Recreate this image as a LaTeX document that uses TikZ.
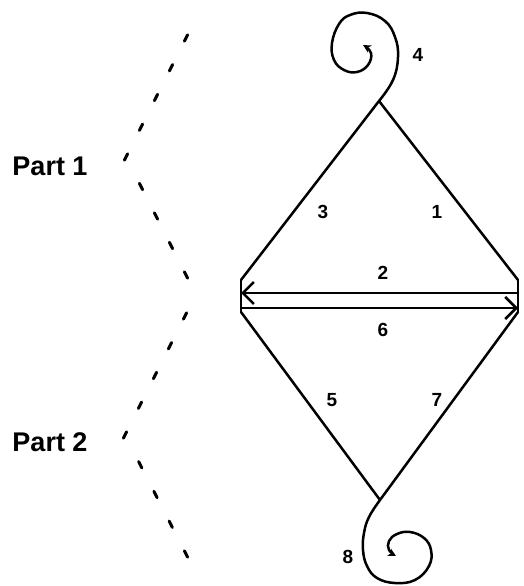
\documentclass[tikz,border=0pt]{standalone}
\usepackage{fontspec}
\setmainfont{Liberation Sans}
\usetikzlibrary{arrows.meta,calc}
\begin{document}
\begin{tikzpicture}[x=1pt,y=-1pt,
  edge/.style={line width=2.5pt,line cap=round,line join=round},
  tickmark/.style={line width=3pt,line cap=round},
  lbl/.style={font=\bfseries\fontsize{19}{19}\selectfont,inner sep=0pt},
  partlbl/.style={font=\bfseries\fontsize{27}{27}\selectfont,inner sep=0pt},
  barb/.style={-{Straight Barb[length=11pt,width=22pt,line width=2.5pt]}}]
\useasboundingbox (0,0) rectangle (523,586);
% vertices
\coordinate (T) at (379,101);
\coordinate (B) at (380,500);
\coordinate (LT) at (241,280);
\coordinate (LB) at (241,312);
\coordinate (RT) at (518,280);
\coordinate (RB) at (518,312);
\coordinate (L2) at (241,293);
\coordinate (R2) at (518,293);
\coordinate (L6) at (241,308);
\coordinate (R6) at (518,308);
% diamond sides
\draw[edge] (T) -- (LT);
\draw[edge] (T) -- (RT);
\draw[edge] (LB) -- (B);
\draw[edge] (RB) -- (B);
\draw[edge] (LT) -- (LB);
\draw[edge] (RT) -- (RB);
\draw[edge,barb] (R2) -- (L2);
\draw[edge,barb] (L6) -- (R6);
% spirals
\draw[edge,-{Stealth[length=8pt,width=8pt]}] plot[smooth,tension=0.7] coordinates {(379,101) (393,80) (398,57) (395,37) (385,21) (367,13) (350,15) (339,24) (332,43) (334,60) (344,70) (357,72) (368,65) (371,53) (363,45)};
\draw[edge,-{Stealth[length=8pt,width=8pt]}] plot[smooth,tension=0.7] coordinates {(380,500) (369,517) (364,533) (363,550) (367,566) (377,578) (395,583) (415,580) (429,566) (431,550) (424,538) (410,532) (397,534) (389,541) (389,550) (396,556)};
% labels
\node[lbl] (n1) at (437,212) {1};
\node[lbl] (n2) at (383,273) {2};
\node[lbl] (n3) at (323,212) {3};
\node[lbl] (n4) at (418,55) {4};
\node[lbl] (n5) at (332,400) {5};
\node[lbl] (n6) at (383,330) {6};
\node[lbl] (n7) at (437,400) {7};
\node[lbl] (n8) at (348,557) {8};
\node[partlbl] (p1) at (50,166) {Part 1};
\node[partlbl] (p2) at (50,442) {Part 2};
% dotted chevrons
\coordinate (A1) at (186,38);
\coordinate (A2) at (126,157);
\coordinate (A3) at (186,275);
\coordinate (C1) at (185,316);
\coordinate (C2) at (125,435);
\coordinate (C3) at (186,554);
\foreach \t in {0,0.25,0.5,0.75,1} {
  \draw[tickmark] ($(A1)!\t!(A2)$) ++(-1.6,3.2) -- ++(3.2,-6.4);
  \draw[tickmark] ($(C1)!\t!(C2)$) ++(-1.6,3.2) -- ++(3.2,-6.4);
}
\foreach \t in {0.25,0.5,0.75,1} {
  \draw[tickmark] ($(A2)!\t!(A3)$) ++(-1.6,-3.2) -- ++(3.2,6.4);
  \draw[tickmark] ($(C2)!\t!(C3)$) ++(-1.6,-3.2) -- ++(3.2,6.4);
}
\end{tikzpicture}
\end{document}
